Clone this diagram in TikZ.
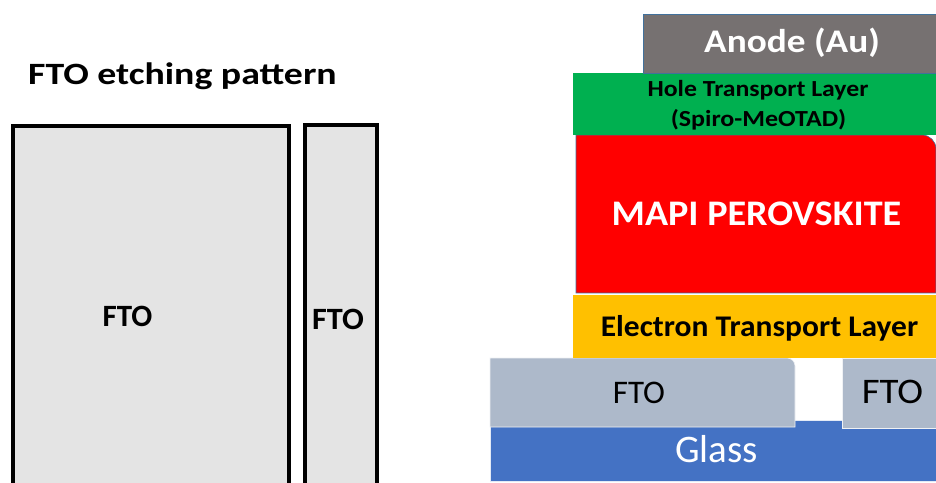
\documentclass[tikz,border=0pt]{standalone}
\usepackage{fontspec}
\setmainfont{Carlito}
\usepackage{graphicx}
\usepackage{tikz}
\usetikzlibrary{positioning}
\usepackage{xcolor}
\definecolor{Etch}{HTML}{E4E4E4}
\definecolor{AuGray}{HTML}{767171}
\definecolor{HTLgreen}{HTML}{00B050}
\definecolor{PvkRed}{HTML}{FF0000}
\definecolor{ETLgold}{HTML}{FFC000}
\definecolor{FTOblue}{HTML}{ADB9CA}
\definecolor{GlassBlue}{HTML}{4472C4}
\definecolor{Edge}{HTML}{41719C}
\newcommand{\wider}[2]{\scalebox{#1}[1]{#2}}
\tikzset{
  etchline/.style={draw=black, line width=4pt, fill=Etch},
  layer/.style={draw=#1, line width=0.6pt},
  layer/.default={Edge},
  lbl/.style={anchor=base, inner sep=0pt, font=\bfseries},
}

\begin{document}
\begin{tikzpicture}[x=1pt,y=1pt]
  \useasboundingbox (0,0) rectangle (936,482);

  % left: etching pattern
  \node[lbl, anchor=base west, font=\fontsize{31}{36}\selectfont\bfseries] (title) at (28,397) {\wider{1.22}{FTO etching pattern}};
  \path[etchline] (13,-6) -- (13,356) -- (289,356) -- (289,-6);
  \path[etchline] (305,-6) -- (305,357) -- (377,357) -- (377,-6);
  \node[lbl, font=\fontsize{31}{36}\selectfont\bfseries] (ftoA) at (127.5,155) {FTO};
  \node[lbl, font=\fontsize{31}{36}\selectfont\bfseries] (ftoB) at (338,153) {\wider{1.04}{FTO}};

  % right: device stack
  \path[layer=white!85!GlassBlue, fill=GlassBlue] (490,1) rectangle (936,62);
  \path[layer=white!80!FTOblue, fill=FTOblue] (490,55) -- (490,124) -- (787,124)
    arc[start angle=90, end angle=0, radius=8] -- (795,55) -- cycle;
  \path[layer=white!80!FTOblue, fill=FTOblue] (842,54) rectangle (936,124);
  \path[fill=ETLgold] (573,124) rectangle (936,187);
  \path[layer, fill=PvkRed] (576,189) -- (576,347) -- (922,347)
    arc[start angle=90, end angle=0, radius=14] -- (936,189) -- cycle;
  \path[fill=HTLgreen] (573,347) rectangle (936,409);
  \path[layer, fill=AuGray] (643,409) rectangle (936,468);

  \node[lbl, text=white, font=\fontsize{33}{38}\selectfont\bfseries] (anode) at (792,429) {\wider{1.13}{Anode (Au)}};
  \node[lbl, font=\fontsize{23}{28}\selectfont\bfseries] (htl) at (758,385) {\wider{1.12}{Hole Transport Layer}};
  \node[lbl, font=\fontsize{23}{28}\selectfont\bfseries] (spiro) at (758.5,355) {\wider{1.13}{(Spiro-MeOTAD)}};
  \node[lbl, text=white, font=\fontsize{36}{40}\selectfont\bfseries] (mapi) at (756.5,256) {\wider{1.06}{MAPI PEROVSKITE}};
  \node[lbl, font=\fontsize{30}{34}\selectfont\bfseries] (etl) at (759.5,146) {\wider{1.05}{Electron Transport Layer}};
  \node[lbl, font=\fontsize{33}{38}\selectfont] (ftoL) at (639,79) {FTO};
  \node[lbl, font=\fontsize{36}{40}\selectfont] (ftoR) at (892.5,79) {\wider{1.08}{FTO}};
  \node[lbl, text=white, font=\fontsize{39}{44}\selectfont] (glass) at (716.5,20) {Glass};
\end{tikzpicture}
\end{document}
